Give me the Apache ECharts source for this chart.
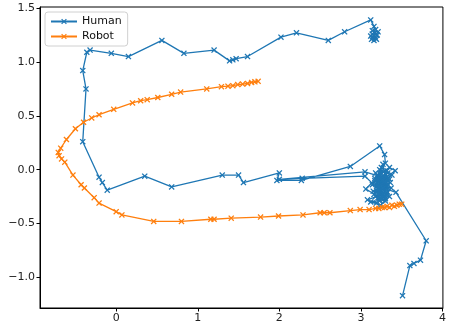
<!DOCTYPE html>
<html>
<head>
<meta charset="utf-8">
<script src="https://cdn.jsdelivr.net/npm/echarts@6/dist/echarts.min.js"></script>
<style>
  html, body { margin: 0; padding: 0; background: #fff; }
  #chart { width: 449px; height: 329px; }
</style>
</head>
<body>
<div id="chart"></div>
<script>
/* 轨迹数据 [x, y] */
var humanTop = [
  [3.15, 1.23], [3.18, 1.22], [3.13, 1.21], [3.17, 1.27], [3.20, 1.25],
  [3.14, 1.26], [3.19, 1.21], [3.12, 1.24], [3.16, 1.20], [3.21, 1.28],
  [3.14, 1.29], [3.18, 1.30], [3.16, 1.33], [3.12, 1.39],
  [2.80, 1.28], [2.60, 1.20], [2.21, 1.27], [2.02, 1.23], [1.61, 1.05],
  [1.47, 1.03], [1.43, 1.02], [1.39, 1.01], [1.20, 1.11], [0.83, 1.08],
  [0.56, 1.20], [0.15, 1.05], [-0.06, 1.08], [-0.32, 1.11], [-0.36, 1.09]
];
var humanLeft = [
  [-0.41, 0.92], [-0.37, 0.75], [-0.41, 0.26], [-0.21, -0.07], [-0.17, -0.12],
  [-0.11, -0.19], [0.35, -0.06], [0.68, -0.16], [1.30, -0.05], [1.50, -0.05],
  [1.56, -0.12], [2.00, -0.03], [1.97, -0.10], [2.27, -0.10], [2.87, 0.03],
  [3.23, 0.22], [3.29, 0.14], [3.30, 0.06]
];
var humanCluster1 = [
  [3.25, 0.02], [3.33, -0.03], [3.22, -0.08], [3.36, -0.12], [3.20, -0.15],
  [3.30, -0.20], [3.18, -0.25], [3.27, -0.28], [3.12, -0.30], [3.24, -0.33],
  [3.35, -0.25], [3.28, -0.10], [3.38, -0.05], [3.23, 0.00], [3.32, -0.16],
  [3.15, -0.20], [3.26, -0.22], [3.20, -0.05], [3.35, 0.02], [3.42, -0.01],
  [3.22, -0.12], [3.29, -0.06], [3.19, -0.19], [3.27, -0.15], [3.21, -0.26],
  [3.31, -0.12], [3.24, -0.18], [3.17, -0.08], [3.28, -0.02], [3.34, -0.08],
  [3.23, -0.23], [3.30, -0.27], [3.18, -0.13], [3.26, -0.07], [3.05, -0.02]
];
var humanBack = [
  [2.00, -0.09], [2.28, -0.08], [3.05, -0.06]
];
var humanCluster2 = [
  [3.21, -0.18], [3.31, -0.07], [3.25, -0.13], [3.19, -0.31], [3.08, -0.28],
  [3.33, -0.21], [3.27, 0.05], [3.17, -0.10], [3.29, -0.24], [3.37, -0.17],
  [3.14, -0.14], [3.24, -0.04], [3.06, -0.18], [3.30, -0.29], [3.35, -0.09],
  [3.20, -0.22], [3.26, -0.10], [3.32, -0.01], [3.22, -0.16], [3.28, -0.19],
  [3.18, -0.03], [3.25, -0.26], [3.33, -0.14], [3.21, -0.09], [3.29, -0.11],
  [3.16, -0.23], [3.23, -0.29], [3.31, -0.23], [3.27, -0.17], [3.43, -0.21]
];
var humanTail = [
  [3.80, -0.66], [3.73, -0.84], [3.65, -0.87], [3.60, -0.89], [3.51, -1.17]
];
var robot = [
  [1.74, 0.82], [1.70, 0.815], [1.66, 0.81], [1.61, 0.80], [1.55, 0.795],
  [1.49, 0.79], [1.43, 0.78], [1.37, 0.775], [1.29, 0.77], [1.11, 0.75],
  [0.79, 0.72], [0.68, 0.70], [0.51, 0.67], [0.38, 0.65], [0.30, 0.64],
  [0.20, 0.62], [-0.03, 0.56], [-0.21, 0.51], [-0.30, 0.48], [-0.40, 0.44],
  [-0.50, 0.38], [-0.61, 0.28], [-0.68, 0.20], [-0.71, 0.16], [-0.70, 0.13],
  [-0.67, 0.10], [-0.63, 0.07], [-0.53, -0.05], [-0.43, -0.14], [-0.39, -0.17],
  [-0.27, -0.26], [-0.21, -0.31], [0.00, -0.39], [0.07, -0.42], [0.46, -0.48],
  [0.80, -0.48], [1.16, -0.46], [1.20, -0.46], [1.41, -0.45], [1.77, -0.44],
  [1.99, -0.43], [2.29, -0.42], [2.50, -0.40], [2.55, -0.40], [2.62, -0.40],
  [2.87, -0.38], [2.99, -0.37], [3.10, -0.37], [3.18, -0.36], [3.22, -0.36],
  [3.26, -0.35], [3.29, -0.35], [3.32, -0.34], [3.35, -0.35], [3.38, -0.33],
  [3.41, -0.34], [3.44, -0.33], [3.47, -0.32], [3.50, -0.32]
];
var xTicks = [0, 1, 2, 3, 4];
var yTicks = [-1.0, -0.5, 0.0, 0.5, 1.0, 1.5];
var seriesNames = ['Human', 'Robot'];

var human = humanTop.concat(humanLeft, humanCluster1, humanBack, humanCluster2, humanTail);

var xMark = 'path://M0,1.5L1.5,0L5,3.5L8.5,0L10,1.5L6.5,5L10,8.5L8.5,10L5,6.5L1.5,10L0,8.5L3.5,5Z';
var fontName = 'DejaVu Sans';

function makeSeries(name, data, color){
    return {
        name: name,
        type: 'line',
        data: data,
        symbol: xMark,
        symbolSize: 6,
        lineStyle: { color: color, width: 1.3 },
        itemStyle: { color: color },
        emphasis: { disabled: true }
    };
}

var option = {
    animation: false,
    grid: {
        left: 40, right: 4, top: 7, bottom: 21,
        show: true, borderColor: '#000', borderWidth: 1, backgroundColor: '#fff'
    },
    legend: {
        data: seriesNames,
        orient: 'vertical',
        left: 45, top: 12,
        itemWidth: 26, itemHeight: 7, itemGap: 4,
        padding: [4, 6, 4, 5],
        borderColor: '#d0d0d0', borderWidth: 1, borderRadius: 3,
        backgroundColor: 'rgba(255,255,255,0.8)',
        textStyle: { fontFamily: fontName, fontSize: 11, color: '#111' }
    },
    xAxis: {
        type: 'value',
        min: -0.934, max: 4.005,
        splitLine: { show: false },
        axisLine: { show: true, onZero: false, lineStyle: { color: '#000', width: 1 } },
        axisTick: { show: true, length: 3.5, lineStyle: { color: '#000' }, customValues: xTicks },
        axisLabel: { customValues: xTicks, fontFamily: fontName, fontSize: 11, color: '#222', margin: 5 }
    },
    yAxis: {
        type: 'value',
        min: -1.284, max: 1.51,
        splitLine: { show: false },
        axisLine: { show: true, onZero: false, lineStyle: { color: '#000', width: 1 } },
        axisTick: { show: true, length: 3.5, lineStyle: { color: '#000' }, customValues: yTicks },
        axisLabel: {
            customValues: yTicks, fontFamily: fontName, fontSize: 11, color: '#222', margin: 5,
            formatter: function(v){ return v.toFixed(1).replace('-', '\u2212'); }
        }
    },
    series: [
        makeSeries(seriesNames[0], human, '#1f77b4'),
        makeSeries(seriesNames[1], robot, '#ff7f0e')
    ]
};

var myChart = echarts.init(document.getElementById('chart'));
myChart.setOption(option);
</script>
</body>
</html>
